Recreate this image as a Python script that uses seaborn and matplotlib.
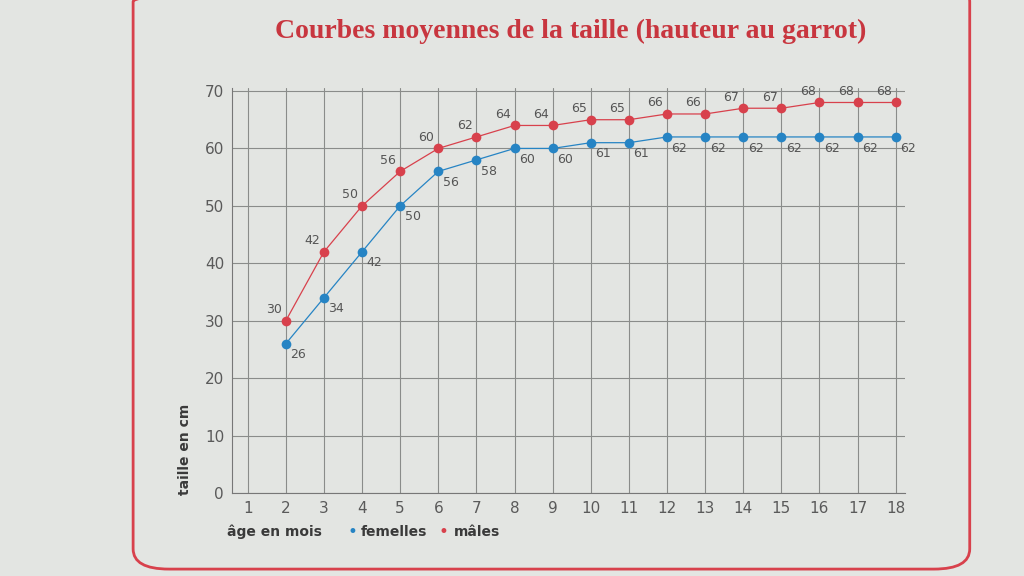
import matplotlib
matplotlib.use("Agg")
import matplotlib.pyplot as plt
import seaborn as sns
import pandas as pd
from matplotlib.patches import FancyBboxPatch

# ages in months and mean height (cm)
mois = list(range(2, 19))
males = [30, 42, 50, 56, 60, 62, 64, 64, 65, 65, 66, 66, 67, 67, 68, 68, 68]
femelles = [26, 34, 42, 50, 56, 58, 60, 60, 61, 61, 62, 62, 62, 62, 62, 62, 62]
x_ticks = list(range(1, 19))
y_ticks = list(range(0, 71, 10))

df = pd.concat([
    pd.DataFrame({'mois': mois, 'taille': males, 'sexe': 'mâles'}),
    pd.DataFrame({'mois': mois, 'taille': femelles, 'sexe': 'femelles'}),
])

red = '#d8414c'
blue = '#2684c4'
bg = '#e3e5e2'

sns.set_style("white")
plt.rcParams['font.family'] = ['DejaVu Sans']

fig = plt.figure(figsize=(10.24, 5.76), dpi=100, facecolor=bg)
# rounded red frame of the page
frame = FancyBboxPatch((0.13, 0.012), 0.817, 1.02, boxstyle="round,pad=0,rounding_size=0.035",
                       transform=fig.transFigure, facecolor='none', edgecolor=red, lw=2.0)
fig.patches.append(frame)

ax = fig.add_axes([0.227, 0.144, 0.657, 0.703])
ax.set_facecolor(bg)

sns.lineplot(data=df, x='mois', y='taille', hue='sexe', palette={'mâles': red, 'femelles': blue},
             marker='o', markersize=7, markeredgewidth=0, linewidth=0.9, ax=ax, legend=False)

for m, v in zip(mois, males):
    ax.text(m - 0.1, v + 0.8, str(v), color='#555555', fontsize=9, ha='right', va='bottom')
for m, v in zip(mois, femelles):
    ax.text(m + 0.12, v - 0.8, str(v), color='#555555', fontsize=9, ha='left', va='top')

ax.set_xlim(0.6, 18.25)
ax.set_ylim(0, 70.5)
ax.set_xticks(x_ticks)
ax.set_yticks(y_ticks)
ax.tick_params(axis='both', labelsize=11, colors='#5a5a5a', length=0, pad=6)
ax.grid(True, color='#8a8c8a', lw=0.8)
for s in ['top', 'right']:
    ax.spines[s].set_visible(False)
for s in ['left', 'bottom']:
    ax.spines[s].set_color('#777777')
ax.set_xlabel('')
ax.set_ylabel('')

fig.text(0.557, 0.945, 'Courbes moyennes de la taille (hauteur au garrot)', color='#c8363f',
         fontsize=20, fontweight='bold', family=['Liberation Serif', 'DejaVu Serif'], ha='center', va='center')
fig.text(0.181, 0.22, 'taille en cm', rotation=90, fontsize=10, fontweight='bold',
         color='#3a3a3a', ha='center', va='center')
fig.text(0.222, 0.077, 'âge en mois', fontsize=10, fontweight='bold', color='#3a3a3a', va='center')
fig.text(0.339, 0.077, '•', fontsize=12, color=blue, va='center')
fig.text(0.352, 0.077, 'femelles', fontsize=10, fontweight='bold', color='#3a3a3a', va='center')
fig.text(0.428, 0.077, '•', fontsize=12, color=red, va='center')
fig.text(0.443, 0.077, 'mâles', fontsize=10, fontweight='bold', color='#3a3a3a', va='center')

fig.savefig('out.png', dpi=100, facecolor=bg)
